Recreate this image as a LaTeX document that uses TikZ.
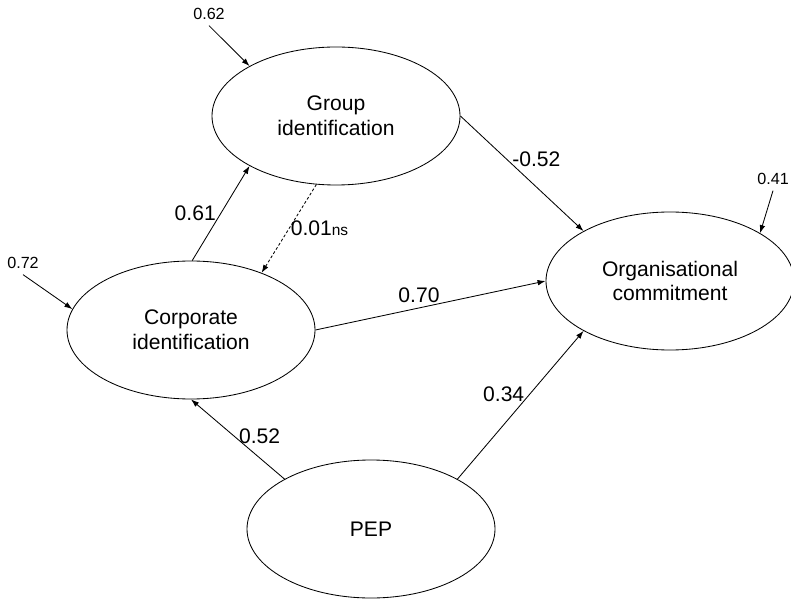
\documentclass[tikz,border=0pt]{standalone}
\usepackage{fontspec}
\setmainfont{Liberation Sans}
\usetikzlibrary{shapes.geometric,arrows.meta}

\begin{document}
\begin{tikzpicture}[
      every node/.style={font=\fontsize{15}{17.5}\selectfont},
      latent/.style={draw, ellipse, minimum width=6.2cm, minimum height=3.45cm,
        inner sep=0pt, align=center, line width=0.6pt},
      arrow/.style={-{Latex[length=2mm,width=1.4mm]}, line width=0.6pt},
      nsarrow/.style={arrow, dash pattern=on 2pt off 1.5pt},
      resid/.style={font=\fontsize{11.5}{13}\selectfont, inner sep=4pt},
    ]
    \useasboundingbox (0,0) rectangle (19.775,14.975);
    % Latent variables
    \node[latent] (GI)  at (8.4, 12.075)  {Group\\identification};
    \node[latent] (CI)  at (4.775, 6.725) {Corporate\\identification};
    \node[latent] (OC)  at (16.75, 7.95)  {Organisational\\commitment};
    \node[latent] (PEP) at (9.275, 1.75)  {PEP};
    % Residuals
    \node[resid] (eGI) at (5.225, 14.625) {0.62};
    \node[resid] (eCI) at (0.575, 8.4)    {0.72};
    \node[resid] (eOC) at (19.325, 10.5)  {0.41};
    \draw[arrow] (eGI.south) -- (GI.150);
    \draw[arrow] (eCI.south) -- (CI.170);
    \draw[arrow] (eOC.south) -- (OC.28);
    % Structural paths
    \draw[arrow] (CI.89) -- node[left]{0.61} (GI.210);
    \draw[nsarrow] (GI.254) -- node[right, inner sep=1pt]{0.01{\fontsize{11}{13}\selectfont ns}} (CI.39);
    \draw[arrow] (GI.0) -- node[pos=.38, right]{-0.52} (OC.150);
    \draw[arrow] (CI.0) -- node[pos=.45, above]{0.70} (OC.180);
    \draw[arrow] (PEP.150) -- node[pos=.54, right]{0.52} (CI.270);
    \draw[arrow] (PEP.30) -- node[pos=.57, left]{0.34} (OC.210);
  \end{tikzpicture}
\end{document}
